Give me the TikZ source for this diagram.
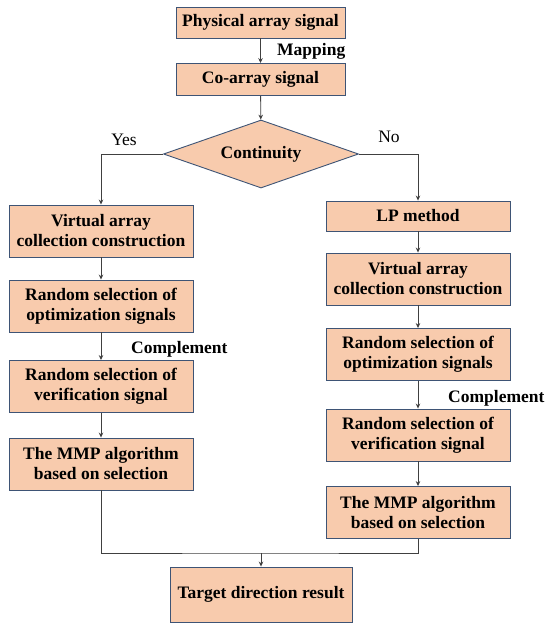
\documentclass[tikz,border=0pt]{standalone}
\usepackage{fontspec}
\setmainfont{Liberation Serif}[BoldFont={Liberation Serif Bold}]
\usetikzlibrary{shapes.geometric,arrows.meta}
\definecolor{boxfill}{HTML}{F8CBAD}
\definecolor{boxline}{HTML}{3E5475}
\definecolor{linecol}{HTML}{404040}
\tikzset{
  proc/.style={draw=boxline, fill=boxfill, line width=0.9pt, inner sep=0pt,
    font=\fontsize{17.5}{20}\selectfont\bfseries, align=center},
  lbox/.style={proc, minimum width=184pt, minimum height=52pt},
  conn/.style={draw=linecol, line width=0.8pt},
  arr/.style={conn, -{Stealth[length=5pt,width=4.5pt]}},
  lab/.style={font=\fontsize{17.5}{20}\selectfont\bfseries, inner sep=0pt},
  yn/.style={font=\fontsize{17.5}{20}\selectfont, inner sep=0pt}
}
\begin{document}
\begin{tikzpicture}[x=1pt,y=-1pt]
\useasboundingbox[fill=white] (0,0) rectangle (550,629);
% top
\node[proc, minimum width=169pt, minimum height=31pt] (phys) at (260.5,22.5) {Physical array signal};
\node[proc, minimum width=169pt, minimum height=32pt] (co) at (260.5,79.5) {Co-array signal};
\node[proc, diamond, shape aspect=2.9, minimum width=195pt, minimum height=68pt] (cont) at (261,154) {Continuity};
% left column
\node[lbox] (lv) at (101,231) {Virtual array\\collection construction};
\node[lbox] (lr) at (101,306) {Random selection of\\optimization signals};
\node[lbox] (lver) at (101,386.5) {Random selection of\\verification signal};
\node[lbox] (lmmp) at (101,464) {The MMP algorithm\\based on selection};
% right column
\node[proc, minimum width=184pt, minimum height=30pt] (lp) at (418,216) {LP method};
\node[lbox] (rv) at (418,279) {Virtual array\\collection construction};
\node[lbox] (rr) at (418,354.5) {Random selection of\\optimization signals};
\node[lbox] (rver) at (418,435) {Random selection of\\verification signal};
\node[lbox] (rmmp) at (418,512.5) {The MMP algorithm\\based on selection};
% bottom
\node[proc, minimum width=182pt, minimum height=55pt] (target) at (261,594.5) {Target direction result};
\coordinate (merge) at (261,553);
% connectors
\draw[arr] (phys) -- (co);
\draw[arr] (co) -- (cont);
\draw[arr] (cont.west) -| (lv.north);
\draw[arr] (cont.east) -| (lp.north);
\draw[arr] (lv) -- (lr);
\draw[arr] (lr) -- (lver);
\draw[arr] (lver) -- (lmmp);
\draw[arr] (lp) -- (rv);
\draw[arr] (rv) -- (rr);
\draw[arr] (rr) -- (rver);
\draw[arr] (rver) -- (rmmp);
\draw[conn] (lmmp.south) |- (merge) -| (rmmp.south);
\draw[arr] (merge) -- (target);
% labels
\node[lab, anchor=west] (lmap) at (277,51) {Mapping};
\node[lab, anchor=west] (lcomp1) at (131,349) {Complement};
\node[lab, anchor=west] (lcomp2) at (448,398) {Complement};
\node[yn] (lyes) at (124,140) {Yes};
\node[yn] (lno) at (389,137) {No};
\end{tikzpicture}
\end{document}
